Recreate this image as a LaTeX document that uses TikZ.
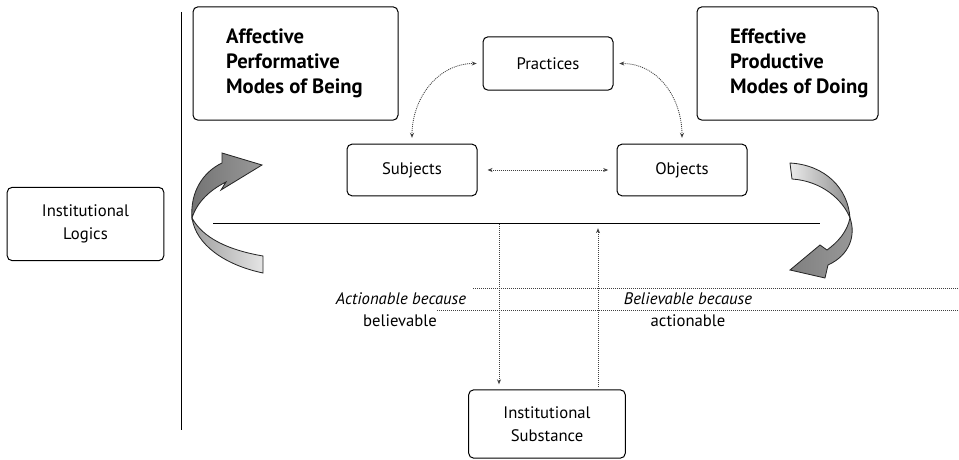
\documentclass[tikz,border=0pt]{standalone}
\usepackage{fontspec}
\setmainfont{PT Sans}
\usetikzlibrary{positioning,arrows.meta}

\tikzset{
  logicbox/.style={draw, line width=0.6pt, rounded corners=3pt, align=center,
    font=\fontsize{10}{13.8}\selectfont},
  modebox/.style={draw, line width=0.6pt, rounded corners=3pt, minimum height=68pt},
  modetext/.style={align=left, inner sep=0pt, font=\fontsize{12.4}{15}\selectfont\bfseries},
  plaintext/.style={anchor=base, inner sep=0pt, font=\fontsize{10}{12}\selectfont},
  dotline/.style={line width=0.5pt, black!75, dash pattern=on 0.6pt off 0.6pt},
  dotboth/.style={dotline, {Stealth[length=3pt,width=2.4pt]}-{Stealth[length=3pt,width=2.4pt]}},
  dotto/.style={dotline, -{Stealth[length=3pt,width=2.4pt]}},
  ribbon/.style={draw=black!85, line width=0.5pt},
}

\begin{document}
\begin{tikzpicture}[x=0.6pt, y=-0.6pt]
    \useasboundingbox (0,0) rectangle (959,460);
    % divider
    \draw[line width=0.6pt] (181,12) -- (181,430);
    % boxes
    \node[logicbox, minimum width=94pt, minimum height=44pt] (logics) at (85.5,224) {Institutional\\Logics};
    \node[modebox, minimum width=123pt] (being) at (295.5,63.5) {};
    \node[modetext, right=20pt of being.west] (beingtxt) {Affective\\Performative\\Modes of Being};
    \node[modebox, minimum width=108.6pt] (doing) at (787.5,63.5) {};
    \node[modetext, right=20pt of doing.west] (doingtxt) {Effective\\Productive\\Modes of Doing};
    \node[logicbox, minimum width=78pt, minimum height=32pt] (prac) at (548,63.5) {Practices};
    \node[logicbox, minimum width=78pt, minimum height=31pt] (subj) at (412,170) {Subjects};
    \node[logicbox, minimum width=78pt, minimum height=31pt] (obj) at (682,170) {Objects};
    \node[logicbox, minimum width=94pt, minimum height=41pt] (subst) at (547,424) {Institutional\\Substance};
    % base line
    \coordinate (lineL) at (213,224);
    \coordinate (lineR) at (820,224);
    \draw[line width=0.6pt] (lineL) -- (lineR);
    % links between the three boxes
    \draw[dotboth, shorten <=3.5pt, shorten >=3.5pt] (subj.north) .. controls +(0,-45) and +(-45,0) .. (prac.west);
    \draw[dotboth, shorten <=3.5pt, shorten >=3.5pt] (obj.north) .. controls +(0,-45) and +(45,0) .. (prac.east);
    \draw[dotboth, shorten <=6pt, shorten >=5pt] (subj.east) -- (obj.west);
    % down and up
    \coordinate (down) at (499,224);
    \coordinate (up) at (598,224);
    \draw[dotto, shorten >=3pt] (down) -- (down |- subst.north);
    \draw[dotto, shorten <=1.5pt, shorten >=2.5pt] (up |- subst.north) -- (up);
    % guide lines
    \draw[dotline] (473,288) -- (959,288);
    \draw[dotline] (437,310) -- (959,310);
    % labels
    \node[plaintext, font=\fontsize{10}{12}\selectfont\itshape] (act) at (401,305) {Actionable because};
    \node[plaintext] (actb) at (400,327) {believable};
    \node[plaintext, font=\fontsize{10}{12}\selectfont\itshape] (bel) at (688,305) {Believable because};
    \node[plaintext] (belb) at (688,327) {actionable};
    % left twisted arrow
    \coordinate (twl) at (192,218);
    \draw[ribbon, left color=black!38, right color=black!10] (twl) .. controls (196,245) and (225,265) .. (263,273)
        -- (263,256) .. controls (228,250) and (203,238) .. (twl) -- cycle;
    \draw[ribbon, left color=black!55, right color=black!40] (twl) .. controls (190,192) and (203,172) .. (222,163)
        -- (222,153) -- (262,165) -- (221,190) -- (226,182) .. controls (210,190) and (197,202) .. (twl) -- cycle;
    % right twisted arrow
    \coordinate (twr) at (850,218);
    \draw[ribbon, left color=black!8, right color=black!45] (790,163) .. controls (825,165) and (848,188) .. (twr)
        .. controls (843,200) and (822,181) .. (792,179) -- cycle;
    \draw[ribbon, left color=black!50, right color=black!40] (twr) .. controls (856,235) and (850,255) .. (828,265)
        -- (825,278) -- (790,270) -- (820,245) -- (827,250) .. controls (838,242) and (847,232) .. (twr) -- cycle;
\end{tikzpicture}
\end{document}
